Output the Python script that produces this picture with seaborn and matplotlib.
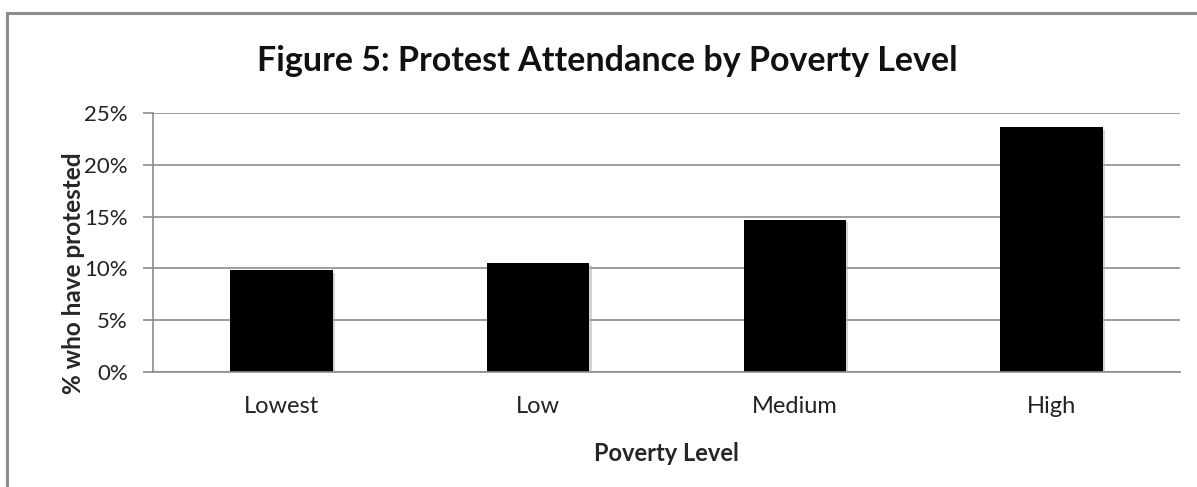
import matplotlib
matplotlib.use("Agg")
import matplotlib.pyplot as plt
import matplotlib.patheffects as pe
from matplotlib.patches import Rectangle
from matplotlib.ticker import FuncFormatter, MultipleLocator
import seaborn as sns
import pandas as pd

categories = ["Lowest", "Low", "Medium", "High"]
protested_pct = [9.8, 10.5, 14.7, 23.6]

sns.set_theme(style="white")
plt.rcParams["font.family"] = ["Lato", "DejaVu Sans"]

df = pd.DataFrame({"level": categories, "pct": protested_pct})

fig = plt.figure(figsize=(11.97, 4.87), dpi=100)
ax = fig.add_axes([0.1278, 0.2361, 0.858, 0.532])

sns.barplot(data=df, x="level", y="pct", color="black", width=0.4,
            saturation=1, ax=ax, linewidth=0)
for bar in ax.patches:
    bar.set_path_effects([pe.SimplePatchShadow(offset=(1.5, -1.5), shadow_rgbFace="#aaaaaa", alpha=0.5),
                          pe.Normal()])

ax.set_ylim(0, 25)
ax.set_xlim(-0.5, len(categories) - 0.5)
ax.yaxis.set_major_locator(MultipleLocator(5))
ax.yaxis.set_major_formatter(FuncFormatter(lambda v, _: f"{v:.0f}%"))
ax.grid(axis="y", color="#8c8c8c", linewidth=1.2)
ax.set_axisbelow(True)

for side in ["top", "right"]:
    ax.spines[side].set_visible(False)
for side in ["left", "bottom"]:
    ax.spines[side].set_color("#8c8c8c")
    ax.spines[side].set_linewidth(1.2)

# tick marks sit between categories on x, outside on y
ax.set_xticks(range(len(categories)))
ax.set_xticklabels(categories)
ax.set_xticks([i - 0.5 for i in range(len(categories) + 1)], minor=True)
ax.tick_params(axis="x", which="major", length=0, pad=17.5, labelsize=17, labelcolor="#222222")
ax.tick_params(axis="x", which="minor", length=6, color="#8c8c8c", width=1.2, direction="out")
ax.tick_params(axis="y", length=7, color="#8c8c8c", width=1.2, direction="out",
               labelsize=16, labelcolor="#222222", pad=11, left=True)

ax.set_xlabel("Poverty Level", fontsize=17, fontweight="bold", labelpad=18)
ax.set_ylabel("% who have protested", fontsize=17.5, fontweight="bold")
ax.yaxis.set_label_coords(-0.066, 0.382)

fig.text(0.507, 0.874, "Figure 5: Protest Attendance by Poverty Level",
         ha="center", va="center", fontsize=24.5, fontweight="bold", color="#111111")

fig.patches.append(Rectangle((7 / 1197, -0.05), 1.1, 0.9733 + 0.05,
                             transform=fig.transFigure, fill=False,
                             edgecolor="#8c8c8c", linewidth=2.2))

fig.savefig("out.png", dpi=100)
